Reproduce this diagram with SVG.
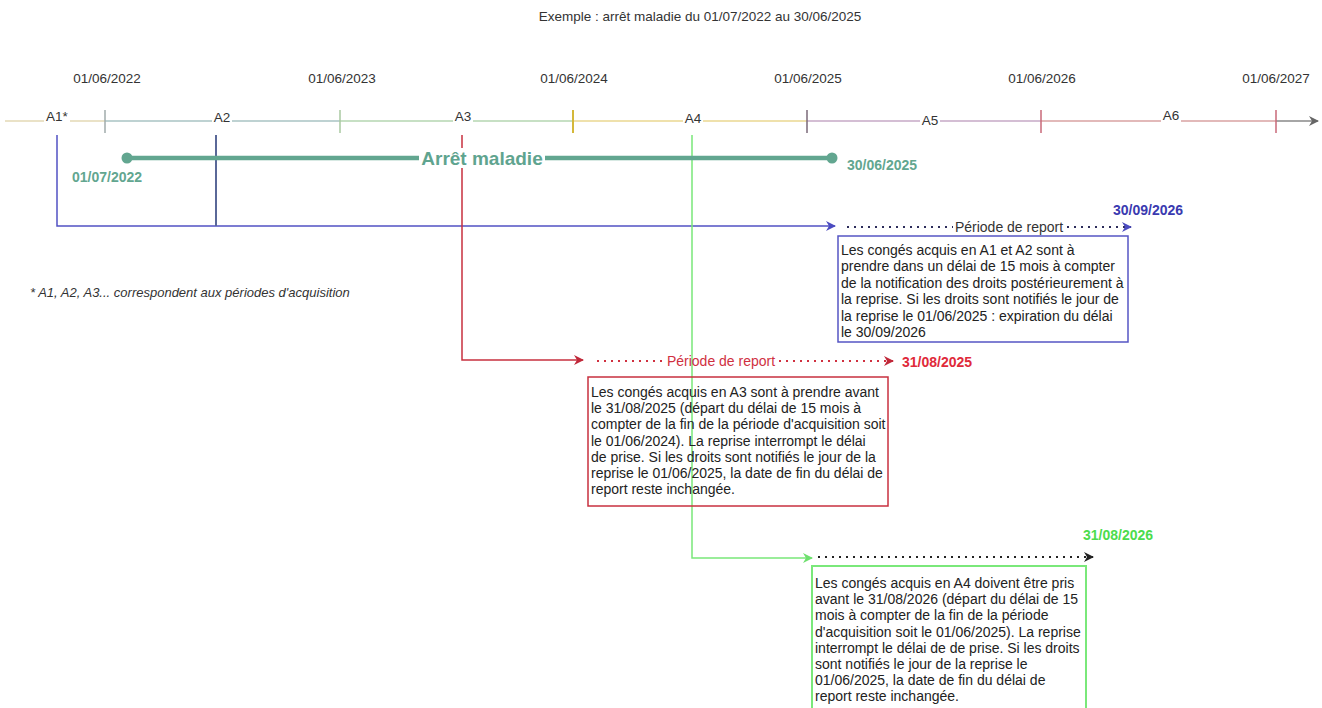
<svg xmlns="http://www.w3.org/2000/svg" width="1322" height="708" viewBox="0 0 1322 708">
<defs>
<style>
text{font-family:"Liberation Sans",Arial,sans-serif;fill:#333}
.date{font-size:13.5px;text-anchor:middle}
.alab{font-size:13.5px;text-anchor:middle}
.box{font-size:14px;fill:#222}
.bold{font-weight:bold;font-size:14px}
.dots{fill:none;stroke-width:2;stroke-dasharray:2 5}
</style>
<marker id="arBlue" viewBox="0 0 10 10" refX="9" refY="5" markerWidth="10" markerHeight="10" markerUnits="userSpaceOnUse" orient="auto"><path d="M0,0 L10,5 L0,10 L3,5 z" fill="#4b4bc0"/></marker>
<marker id="arRed" viewBox="0 0 10 10" refX="9" refY="5" markerWidth="10" markerHeight="10" markerUnits="userSpaceOnUse" orient="auto"><path d="M0,0 L10,5 L0,10 L3,5 z" fill="#c0283a"/></marker>
<marker id="arGreen" viewBox="0 0 10 10" refX="9" refY="5" markerWidth="10" markerHeight="10" markerUnits="userSpaceOnUse" orient="auto"><path d="M0,0 L10,5 L0,10 L3,5 z" fill="#6ee06e"/></marker>
<marker id="arBlack" viewBox="0 0 10 10" refX="9" refY="5" markerWidth="10" markerHeight="10" markerUnits="userSpaceOnUse" orient="auto"><path d="M0,0 L10,5 L0,10 L3,5 z" fill="#222"/></marker>
<marker id="arGray" viewBox="0 0 10 10" refX="9" refY="5" markerWidth="10" markerHeight="10" markerUnits="userSpaceOnUse" orient="auto"><path d="M0,0 L10,5 L0,10 L3,5 z" fill="#666"/></marker>
</defs>
<rect width="1322" height="708" fill="#fff"/>

<g id="title"><text x="700" y="21" font-size="13.5" text-anchor="middle">Exemple : arrêt maladie du 01/07/2022 au 30/06/2025</text></g>

<g id="timeline">
<line x1="5" y1="121" x2="105" y2="121" stroke="#e3d9b5" stroke-width="1.5"/>
<line x1="105" y1="121" x2="340" y2="121" stroke="#a9c3c3" stroke-width="1.5"/>
<line x1="340" y1="121" x2="573" y2="121" stroke="#b5d6b0" stroke-width="1.5"/>
<line x1="573" y1="121" x2="807" y2="121" stroke="#ead790" stroke-width="1.5"/>
<line x1="807" y1="121" x2="1041" y2="121" stroke="#c6a8c6" stroke-width="1.5"/>
<line x1="1041" y1="121" x2="1276" y2="121" stroke="#d8a2a2" stroke-width="1.5"/>
<line x1="1276" y1="121" x2="1318" y2="121" stroke="#888" stroke-width="1.5" marker-end="url(#arGray)"/>
<line x1="105" y1="110" x2="105" y2="133" stroke="#a0abab" stroke-width="1.5"/>
<line x1="340" y1="110" x2="340" y2="133" stroke="#a8c8a0" stroke-width="1.5"/>
<line x1="573" y1="110" x2="573" y2="133" stroke="#d4b83a" stroke-width="2"/>
<line x1="807" y1="110" x2="807" y2="133" stroke="#7a6878" stroke-width="1.5"/>
<line x1="1041" y1="110" x2="1041" y2="133" stroke="#c86878" stroke-width="1.5"/>
<line x1="1276" y1="110" x2="1276" y2="133" stroke="#c86878" stroke-width="1.5"/>
<g fill="#fff">
<rect x="44" y="110" width="26" height="13"/>
<rect x="212" y="110" width="20" height="13"/>
<rect x="453" y="110" width="20" height="13"/>
<rect x="683" y="110" width="20" height="13"/>
<rect x="920" y="110" width="20" height="13"/>
<rect x="1161" y="110" width="20" height="13"/>
</g>
<text class="alab" x="57" y="121">A1*</text>
<text class="alab" x="222" y="122">A2</text>
<text class="alab" x="463" y="121">A3</text>
<text class="alab" x="693" y="123">A4</text>
<text class="alab" x="930" y="125">A5</text>
<text class="alab" x="1171" y="120">A6</text>
<text class="date" x="107" y="83">01/06/2022</text>
<text class="date" x="342" y="83">01/06/2023</text>
<text class="date" x="574" y="83">01/06/2024</text>
<text class="date" x="808" y="83">01/06/2025</text>
<text class="date" x="1042" y="83">01/06/2026</text>
<text class="date" x="1276" y="83">01/06/2027</text>
</g>

<g id="connectors">
<polyline points="57,135 57,226 835,226" fill="none" stroke="#5252c4" stroke-width="1.5" marker-end="url(#arBlue)"/>
<line x1="216" y1="135" x2="216" y2="226" stroke="#5a6898" stroke-width="2"/>
<polyline points="462,135 462,360 583,360" fill="none" stroke="#c8303f" stroke-width="1.5" marker-end="url(#arRed)"/>
<polyline points="692,135 692,558 812,558" fill="none" stroke="#7ae87a" stroke-width="1.5" marker-end="url(#arGreen)"/>
</g>

<g id="arret">
<line x1="127" y1="158" x2="832" y2="158" stroke="#62a690" stroke-width="4.5"/>
<circle cx="127" cy="158" r="5.5" fill="#62a690"/>
<circle cx="832" cy="158" r="5.5" fill="#62a690"/>
<rect x="419" y="148" width="126" height="20" fill="#fff"/>
<text x="482" y="165" font-size="19" font-weight="bold" text-anchor="middle" style="fill:#5fa48f">Arrêt maladie</text>
<text class="bold" x="72" y="182" style="fill:#62a690">01/07/2022</text>
<text class="bold" x="847" y="170" style="fill:#62a690">30/06/2025</text>
</g>

<g id="report-a1a2">
<line class="dots" x1="847" y1="227" x2="953" y2="227" stroke="#2c2c5a"/>
<text x="1009" y="232" font-size="14" text-anchor="middle">Période de report</text>
<line class="dots" x1="1067" y1="227" x2="1131" y2="227" stroke="#2c2c5a" marker-end="url(#arBlue)"/>
<text class="bold" x="1113" y="215" style="fill:#3a3ab0">30/09/2026</text>
<rect x="838" y="236" width="290" height="106" fill="none" stroke="#5555c4" stroke-width="1.5"/>
<text class="box"><tspan x="841" y="255">Les congés acquis en A1 et A2 sont à</tspan><tspan x="841" y="271.4">prendre dans un délai de 15 mois à compter</tspan><tspan x="841" y="287.8">de la notification des droits postérieurement à</tspan><tspan x="841" y="304.2">la reprise. Si les droits sont notifiés le jour de</tspan><tspan x="841" y="320.6">la reprise le 01/06/2025 : expiration du délai</tspan><tspan x="841" y="337">le 30/09/2026</tspan></text>
</g>

<g id="report-a3">
<line class="dots" x1="597" y1="361" x2="664" y2="361" stroke="#d0303f"/>
<text x="721" y="366" font-size="14" text-anchor="middle" style="fill:#d0303f">Période de report</text>
<line class="dots" x1="779" y1="361" x2="893" y2="361" stroke="#d0303f" marker-end="url(#arRed)"/>
<text class="bold" x="902" y="367" style="fill:#e02a3a">31/08/2025</text>
<rect x="588" y="377" width="300" height="129" fill="none" stroke="#c8303f" stroke-width="1.5"/>
<text class="box"><tspan x="591" y="397">Les congés acquis en A3 sont à prendre avant</tspan><tspan x="591" y="413.2">le 31/08/2025 (départ du délai de 15 mois à</tspan><tspan x="591" y="429.4">compter de la fin de la période d'acquisition soit</tspan><tspan x="591" y="445.6">le 01/06/2024). La reprise interrompt le délai</tspan><tspan x="591" y="461.8">de prise. Si les droits sont notifiés le jour de la</tspan><tspan x="591" y="478">reprise le 01/06/2025, la date de fin du délai de</tspan><tspan x="591" y="494.2">report reste inchangée.</tspan></text>
</g>

<g id="report-a4">
<line class="dots" x1="818" y1="557" x2="1093" y2="557" stroke="#222" marker-end="url(#arBlack)"/>
<text class="bold" x="1083" y="540" style="fill:#4cdc4c">31/08/2026</text>
<rect x="812" y="566" width="274" height="150" fill="none" stroke="#7ae87a" stroke-width="2"/>
<text class="box"><tspan x="815" y="588">Les congés acquis en A4 doivent être pris</tspan><tspan x="815" y="604.2">avant le 31/08/2026 (départ du délai de 15</tspan><tspan x="815" y="620.4">mois à compter de la fin de la période</tspan><tspan x="815" y="636.6">d'acquisition soit le 01/06/2025). La reprise</tspan><tspan x="815" y="652.8">interrompt le délai de de prise. Si les droits</tspan><tspan x="815" y="669">sont notifiés le jour de la reprise le</tspan><tspan x="815" y="685.2">01/06/2025, la date de fin du délai de</tspan><tspan x="815" y="701.4">report reste inchangée.</tspan></text>
</g>

<g id="note"><text x="30" y="297" font-size="13" font-style="italic">* A1, A2, A3... correspondent aux périodes d'acquisition</text></g>
</svg>
